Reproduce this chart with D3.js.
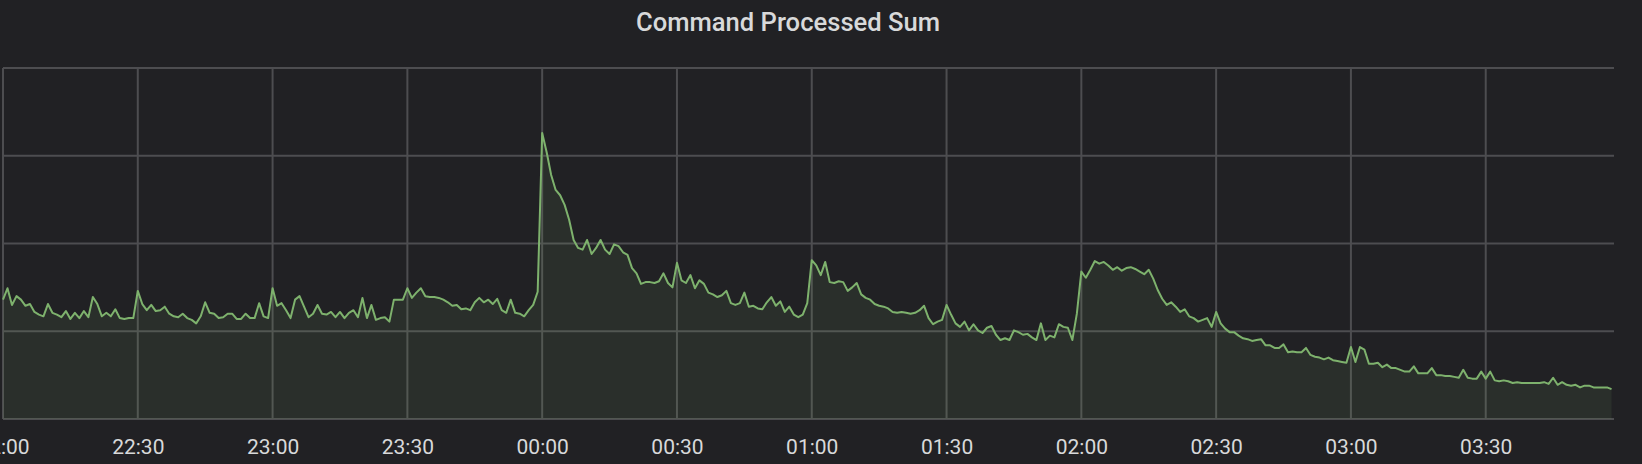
<!DOCTYPE html>
<html><head><meta charset="utf-8">
<script src="https://cdn.jsdelivr.net/npm/d3@7"></script>
<style>html,body{margin:0;padding:0;background:#212124;overflow:hidden}</style>
</head><body><svg id="c" width="1642" height="464"></svg>
<script>
const chartTitle = "Command Processed Sum";
const startTime = new Date(2021, 0, 1, 22, 0, 0);
const stepMinutes = 1;
const spanMinutes = 358.55;
const values = [
136,149,130,140,136,129,131,122,119,117,
131,121,119,116,123,114,121,115,123,116,
139,131,117,121,117,125,115,114,115,115,
146,131,124,130,123,124,128,120,117,116,
120,115,113,109,117,133,121,120,115,116,
120,120,114,114,120,115,115,132,117,115,
149,129,132,124,115,136,140,128,116,120,
130,120,119,
122,116,122,115,121,124,116,
138,115,130,113,115,116,111,136,136,136,
149,138,144,149,140,139,139,138,136,133,
129,130,125,126,124,133,138,133,136,131,
137,124,121,136,121,120,117,124,130,145,
326,304,278,261,255,244,227,204,195,193,
204,188,195,204,193,188,199,197,190,187,
172,166,154,156,
156,155,157,166,155,150,
178,158,155,164,149,158,154,144,142,139,
141,146,132,130,132,144,128,129,126,125,
133,139,129,134,122,128,119,116,119,132,
181,175,164,179,156,155,157,156,146,150,
155,142,138,136,131,129,128,126,122,121,
122,121,120,121,124,129,115,108,111,113,
130,119,109,105,111,101,
108,101,98,104,
106,96,90,92,90,101,99,96,97,93,
90,109,90,95,93,108,105,104,90,120,
168,161,170,180,177,179,175,170,173,169,
172,173,171,168,165,170,160,147,137,130,
133,128,122,125,117,115,111,113,115,105,
122,109,103,99,99,95,92,91,89,90,
91,84,84,81,81,85,76,
77,76,76,
81,73,71,70,68,70,67,66,65,64,
82,65,82,79,63,63,64,59,62,58,
58,56,54,54,60,52,52,52,58,50,
50,49,49,48,47,56,47,46,46,54,
46,54,44,43,44,43,41,42,41,41,
41,41,41,42,40,47,39,42,39,38,
39,36,38,38,36,36,36,36,34
];
const tickLabels = ["22:00","22:30","23:00","23:30","00:00","00:30","01:00","01:30","02:00","02:30","03:00","03:30"];
const yTicks = [0,100,200,300,400];

(function(){
const data = values.map((v,i)=>({t:new Date(startTime.getTime()+i*stepMinutes*60000), v}));
const tickTimes = tickLabels.map((_,i)=>new Date(startTime.getTime()+i*30*60000));

const pl=3, pr=1614, pt=68, pb=419;
const x = d3.scaleTime().domain([startTime, new Date(startTime.getTime()+spanMinutes*60000)]).range([pl,pr]);
const y = d3.scaleLinear().domain([0,400]).range([pb,pt]);

const svg = d3.select("#c");
svg.append("rect").attr("width",1642).attr("height",464).attr("fill","#212124");

svg.append("text").attr("x",788).attr("y",31).attr("text-anchor","middle")
  .attr("fill","#d8d9da").style("font-family","Roboto, 'Noto Sans', sans-serif")
  .style("font-weight","500").style("font-size","25.6px").text(chartTitle);

const grid = svg.append("g").attr("stroke","#4d4d50").attr("stroke-width",2);
grid.selectAll("line.h").data(yTicks).join("line").attr("class","h")
  .attr("x1",pl).attr("x2",pr).attr("y1",d=>y(d)).attr("y2",d=>y(d));
grid.selectAll("line.v").data(tickTimes).join("line").attr("class","v")
  .attr("x1",d=>x(d)).attr("x2",d=>x(d)).attr("y1",pt).attr("y2",pb);

svg.append("path").datum(data)
  .attr("fill","#7EB26D").attr("fill-opacity",0.1)
  .attr("d", d3.area().x(d=>x(d.t)).y0(y(0)).y1(d=>y(d.v)));
svg.append("path").datum(data)
  .attr("fill","none").attr("stroke","#7EB26D").attr("stroke-width",2).attr("stroke-linejoin","round")
  .attr("d", d3.line().x(d=>x(d.t)).y(d=>y(d.v)));

const axis = d3.axisBottom(x).tickValues(tickTimes).tickFormat((d,i)=>tickLabels[i]).tickSize(0);
const ag = svg.append("g").attr("transform",`translate(0,${pb})`).call(axis);
ag.select(".domain").remove();
ag.selectAll("text").attr("dy",null).attr("y",35)
  .attr("fill","#d8d9da").style("font-family","Roboto, 'Noto Sans', sans-serif").style("font-size","21px");
})();
</script></body></html>
